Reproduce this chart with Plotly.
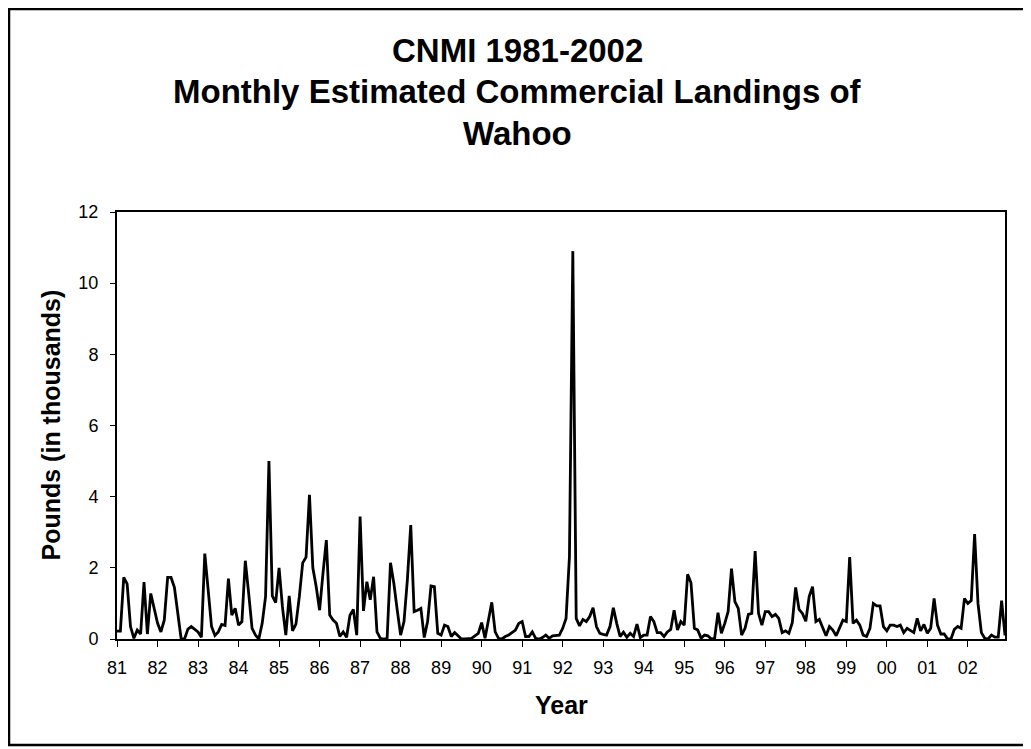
import plotly.graph_objects as go

# Monthly estimated landings (thousands of pounds), Jan..Dec per year
y1981 = [0.22, 0.22, 1.73, 1.55, 0.35, 0.02, 0.25, 0.14, 1.60, 0.14, 1.28, 0.85]
y1982 = [0.45, 0.20, 0.53, 1.73, 1.73, 1.45, 0.70, 0.00, 0.00, 0.28, 0.35, 0.27]
y1983 = [0.20, 0.05, 2.40, 1.38, 0.35, 0.10, 0.20, 0.41, 0.38, 1.70, 0.67, 0.86]
y1984 = [0.39, 0.49, 2.20, 1.28, 0.30, 0.11, 0.00, 0.44, 1.19, 5.00, 1.21, 1.02]
y1985 = [2.00, 0.90, 0.11, 1.21, 0.23, 0.42, 1.19, 2.14, 2.30, 4.05, 2.00, 1.47]
y1986 = [0.81, 1.84, 2.78, 0.67, 0.53, 0.44, 0.07, 0.20, 0.05, 0.67, 0.83, 0.11]
y1987 = [3.44, 0.79, 1.61, 1.10, 1.75, 0.20, 0.02, 0.00, 0.00, 2.14, 1.56, 0.81]
y1988 = [0.11, 0.49, 1.66, 3.20, 0.77, 0.81, 0.86, 0.04, 0.50, 1.49, 1.47, 0.16]
y1989 = [0.11, 0.39, 0.35, 0.07, 0.18, 0.09, 0.00, 0.00, 0.02, 0.02, 0.09, 0.16]
y1990 = [0.46, 0.02, 0.53, 1.03, 0.20, 0.02, 0.00, 0.07, 0.11, 0.18, 0.25, 0.44]
y1991 = [0.49, 0.07, 0.07, 0.20, 0.02, 0.00, 0.04, 0.11, 0.02, 0.09, 0.09, 0.11]
y1992 = [0.30, 0.58, 2.31, 10.90, 0.58, 0.37, 0.55, 0.49, 0.63, 0.88, 0.35, 0.16]
y1993 = [0.13, 0.11, 0.35, 0.88, 0.44, 0.07, 0.19, 0.05, 0.16, 0.07, 0.42, 0.04]
y1994 = [0.11, 0.11, 0.63, 0.49, 0.18, 0.18, 0.07, 0.20, 0.27, 0.81, 0.25, 0.49]
y1995 = [0.39, 1.82, 1.58, 0.30, 0.25, 0.02, 0.11, 0.09, 0.00, 0.02, 0.74, 0.16]
y1996 = [0.44, 0.77, 1.98, 1.05, 0.86, 0.11, 0.30, 0.69, 0.72, 2.47, 0.72, 0.39]
y1997 = [0.77, 0.77, 0.63, 0.69, 0.58, 0.18, 0.23, 0.16, 0.46, 1.45, 0.83, 0.72]
y1998 = [0.50, 1.19, 1.47, 0.49, 0.55, 0.30, 0.09, 0.35, 0.25, 0.09, 0.30, 0.53]
y1999 = [0.49, 2.30, 0.44, 0.53, 0.39, 0.11, 0.07, 0.30, 1.00, 0.93, 0.93, 0.35]
y2000 = [0.23, 0.39, 0.39, 0.35, 0.39, 0.18, 0.30, 0.25, 0.18, 0.58, 0.23, 0.41]
y2001 = [0.16, 0.30, 1.14, 0.39, 0.14, 0.14, 0.00, 0.00, 0.27, 0.35, 0.30, 1.14]
y2002 = [1.00, 1.08, 2.95, 1.00, 0.18, 0.02, 0.00, 0.11, 0.05, 0.05, 1.08, 0.10]

years = [y1981, y1982, y1983, y1984, y1985, y1986, y1987, y1988, y1989, y1990, y1991,
         y1992, y1993, y1994, y1995, y1996, y1997, y1998, y1999, y2000, y2001, y2002]
tick_labels = ["81", "82", "83", "84", "85", "86", "87", "88", "89", "90", "91",
               "92", "93", "94", "95", "96", "97", "98", "99", "00", "01", "02"]

values = [v for yr in years for v in yr]
months = list(range(len(values)))
tick_positions = [12 * k for k in range(len(tick_labels))]

OFF = 8  # page body margin
W, H = 1031 - OFF, 749 - OFF
L, T = 117 - OFF, 212 - OFF
pw, ph = 888, 427
R, B = W - L - pw, H - T - ph

def px(x):  # screen x -> paper
    return (x - OFF - L) / pw

def py(y):  # screen y -> paper
    return (T + ph - (y - OFF)) / ph

FONT = "Liberation Sans, Arial, sans-serif"

fig = go.Figure()
fig.add_trace(go.Scatter(x=months, y=values, mode="lines",
                         line=dict(color="black", width=2.8), hoverinfo="x+y"))

fig.update_layout(
    width=W, height=H,
    margin=dict(l=L, r=R, t=T, b=B),
    paper_bgcolor="white", plot_bgcolor="white",
    showlegend=False,
    font=dict(family=FONT, color="black", size=18),
    xaxis=dict(range=[0, len(values) - 1], tickvals=tick_positions, ticktext=tick_labels,
               showgrid=False, zeroline=False, showline=True, linecolor="black", linewidth=2,
               mirror=True, ticks="outside", ticklen=6, tickwidth=1, tickcolor="black",
               ticklabelstandoff=5, tickfont=dict(size=18, family=FONT)),
    yaxis=dict(range=[0, 12], dtick=2, showgrid=False, zeroline=False, showline=True,
               linecolor="black", linewidth=2, mirror=True, ticks="outside", ticklen=5,
               tickwidth=1, tickcolor="black", ticklabelstandoff=8,
               tickfont=dict(size=18, family=FONT)),
)

title_lines = [("CNMI 1981-2002", 50), ("Monthly Estimated Commercial Landings of", 92),
               ("Wahoo", 133)]
for txt, yy in title_lines:
    fig.add_annotation(text="<b>%s</b>" % txt, xref="paper", yref="paper",
                       x=px(517), y=py(yy), xanchor="center", yanchor="middle",
                       showarrow=False, font=dict(size=33, family=FONT, color="black"))

fig.add_annotation(text="<b>Year</b>", xref="paper", yref="paper", x=0.5, y=py(705),
                   xanchor="center", yanchor="middle", showarrow=False,
                   font=dict(size=25, family=FONT, color="black"))
fig.add_annotation(text="<b>Pounds (in thousands)</b>", xref="paper", yref="paper",
                   x=px(50), y=0.5, xanchor="center", yanchor="middle", textangle=-90,
                   showarrow=False, font=dict(size=25, family=FONT, color="black"))

# outer chart border
fig.add_shape(type="rect", xref="paper", yref="paper",
              x0=px(9), x1=px(1027), y0=py(745), y1=py(9),
              line=dict(color="black", width=2.5), fillcolor="rgba(0,0,0,0)", layer="below")

fig.write_html("out.html")
